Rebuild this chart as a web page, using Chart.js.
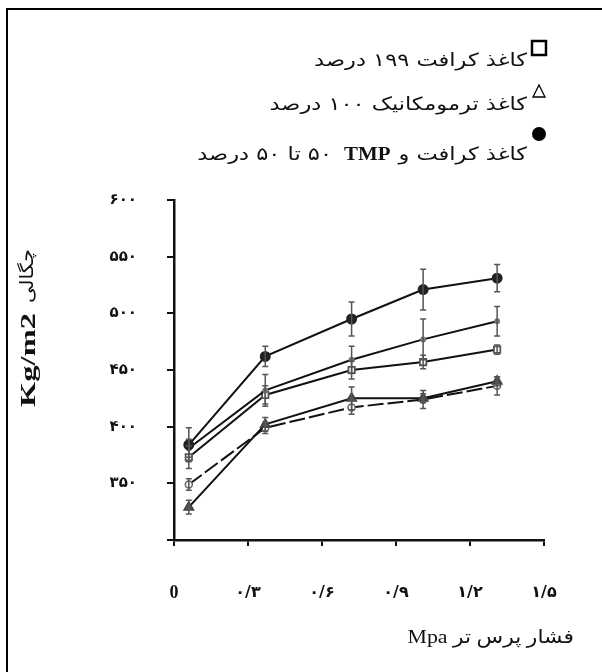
<!DOCTYPE html>
<html>
<head>
<meta charset="utf-8">
<script src="https://cdn.jsdelivr.net/npm/chart.js@4.4.0/dist/chart.umd.min.js"></script>
<style>
    html, body { margin: 0; padding: 0; background: #fff; }
    #wrap { width: 602px; height: 672px; position: relative; }
</style>
</head>
<body>
<div id="wrap"><canvas id="chart"></canvas></div>
<script>
// pressure (Mpa) where each sample was taken
const pressure = [0.06, 0.37, 0.72, 1.01, 1.31]

// density values, one array per curve, with the error bar half-heights
const tmpMix = [384, 462, 495, 521, 531]
const tmpMixErr = [15, 9, 15, 18, 12]
const mixLine = [381, 432, 459, 477, 493]
const mixLineErr = [8, 14, 12, 18, 13]
const kraft = [373, 428, 450, 457, 468]
const kraftErr = [10, 8, 8, 6, 4]
const thermoFilled = [329, 402, 425, 425, 440]
const thermoFilledErr = [6, 6, 10, 4, 4]
const thermo = [349, 399, 417, 424, 436]
const thermoErr = [5, 5, 6, 8, 8]

const xTicks = [0, 0.3, 0.6, 0.9, 1.2, 1.5]
const xTickLabels = ['0', '۰/۳', '۰/۶', '۰/۹', '۱/۲', '۱/۵']
const yTicks = [300, 350, 400, 450, 500, 550, 600]
const yTickLabels = ['', '۳۵۰', '۴۰۰', '۴۵۰', '۵۰۰', '۵۵۰', '۶۰۰']

const legendLabels = ['کاغذ کرافت ۱۹۹ درصد', 'کاغذ ترمومکانیک ۱۰۰ درصد', 'کاغذ کرافت و TMP ۵۰ تا ۵۰ درصد']
const legendMarkers = ['square', 'triangle', 'dot']

const xTitle = 'فشار پرس تر Mpa'
const yTitleUnit = 'Kg/m2'
const yTitleWord = 'چگالی'

const serif = "'Liberation Serif', 'DejaVu Sans', serif"
const persian = "'DejaVu Sans', sans-serif"

function pts(values) {
    return values.map((v, i) => ({ x: pressure[i], y: v }))
}

// right-aligned text, stretched sideways a little (the scan's Persian font is wide)
function wideText(c, text, xr, y, font, sx, dir) {
    c.save()
    c.font = font
    c.direction = dir || 'rtl'
    c.textAlign = 'right'
    c.translate(xr, y)
    c.scale(sx, 1)
    c.fillText(text, 0, 0)
    const w = c.measureText(text).width * sx
    c.restore()
    return w
}

const framePlugin = {
    id: 'frame',
    beforeDraw(chart) {
        const c = chart.ctx
        c.save()
        c.fillStyle = '#fff'
        c.fillRect(0, 0, chart.width, chart.height)
        c.strokeStyle = '#000'
        c.lineWidth = 2
        c.beginPath()
        c.moveTo(7, chart.height)
        c.lineTo(7, 9)
        c.lineTo(chart.width, 9)
        c.stroke()
        c.restore()
    }
}

const errorBarPlugin = {
    id: 'errorBars',
    afterDatasetsDraw(chart) {
        const c = chart.ctx
        const xs = chart.scales.x, ys = chart.scales.y
        c.save()
        c.strokeStyle = '#555'
        c.lineWidth = 1.5
        chart.data.datasets.forEach(ds => {
            if (!ds.errorBars) return
            ds.data.forEach((p, i) => {
                const e = ds.errorBars[i]
                if (!e) return
                const px = xs.getPixelForValue(p.x)
                const top = ys.getPixelForValue(p.y + e)
                const bot = ys.getPixelForValue(p.y - e)
                c.beginPath()
                c.moveTo(px, top); c.lineTo(px, bot)
                c.moveTo(px - 3, top); c.lineTo(px + 3, top)
                c.moveTo(px - 3, bot); c.lineTo(px + 3, bot)
                c.stroke()
            })
        })
        c.restore()
    }
}

function drawMarker(c, kind, x, y) {
    c.save()
    c.strokeStyle = '#000'
    c.fillStyle = '#000'
    if (kind === 'square') {
        c.lineWidth = 2.5
        c.strokeRect(x - 7, y - 7, 14, 14)
    } else if (kind === 'triangle') {
        c.lineWidth = 1.3
        c.beginPath()
        c.moveTo(x, y - 7); c.lineTo(x + 6, y + 5); c.lineTo(x - 6, y + 5)
        c.closePath()
        c.stroke()
    } else {
        c.beginPath()
        c.arc(x, y, 7, 0, Math.PI * 2)
        c.fill()
    }
    c.restore()
}

const textPlugin = {
    id: 'texts',
    afterDraw(chart) {
        const c = chart.ctx
        const area = chart.chartArea
        c.save()
        c.fillStyle = '#111'
        c.textBaseline = 'middle'

        // legend: marker on the right, label one step lower and to the left
        const markerX = 539, textRight = 527
        const markerY = [48, 92, 134], textY = [61, 105, 155]
        const pFont = '18px ' + persian
        legendLabels.forEach((label, i) => {
            drawMarker(c, legendMarkers[i], markerX, markerY[i])
            if (label.includes('TMP')) {
                const parts = label.split('TMP')
                let xr = textRight
                xr -= wideText(c, parts[0].trim(), xr, textY[i], pFont, 1.25) + 8
                xr -= wideText(c, 'TMP', xr, textY[i], 'bold 19px ' + serif, 1.1, 'ltr') + 12
                wideText(c, parts[1].trim(), xr, textY[i], pFont, 1.25)
            } else {
                wideText(c, label, textRight, textY[i], pFont, 1.25)
            }
        })

        // x axis title, sitting right of centre as in the original
        wideText(c, xTitle, area.right + 30, 638, '19px ' + serif, 1.15)

        // y axis title, rotated, read from bottom to top
        c.direction = 'ltr'
        c.translate(30, 407)
        c.rotate(-Math.PI / 2)
        c.textAlign = 'left'
        c.save()
        c.scale(1.55, 1)
        c.font = 'bold 21px ' + serif
        c.fillText(yTitleUnit, 0, 0)
        const unitW = c.measureText(yTitleUnit).width * 1.55
        c.restore()
        c.save()
        c.scale(1.15, 1)
        c.font = '18px ' + persian
        c.fillText(yTitleWord, (unitW + 10) / 1.15, -2)
        c.restore()
        c.restore()
    }
}

const ctx = document.getElementById('chart').getContext('2d')

const datasets = [
    { data: pts(tmpMix), errorBars: tmpMixErr, pointStyle: 'circle', pointRadius: 4.5,
      pointBackgroundColor: '#222', pointBorderColor: '#222' },
    { data: pts(mixLine), errorBars: mixLineErr, pointStyle: 'circle', pointRadius: 2,
      pointBackgroundColor: '#777', pointBorderColor: '#777' },
    { data: pts(kraft), errorBars: kraftErr, pointStyle: 'rect', pointRadius: 4.5,
      pointBackgroundColor: '#fff', pointBorderColor: '#555', pointBorderWidth: 1.8 },
    { data: pts(thermoFilled), errorBars: thermoFilledErr, pointStyle: 'triangle', pointRadius: 5,
      pointBackgroundColor: '#555', pointBorderColor: '#444' },
    { data: pts(thermo), errorBars: thermoErr, pointStyle: 'circle', pointRadius: 3.5,
      pointBackgroundColor: '#fff', pointBorderColor: '#666', pointBorderWidth: 1.5,
      borderDash: [16, 4] }
].map(d => Object.assign({
    borderColor: '#111', borderWidth: 2, fill: false, tension: 0, showLine: true
}, d))

const chart = new Chart(ctx, {
    type: 'scatter',
    data: { datasets: datasets },
    plugins: [framePlugin, errorBarPlugin, textPlugin],
    options: {
        responsive: true,
        maintainAspectRatio: false,
        animation: false,
        layout: { padding: { left: 0, top: 200, right: 58, bottom: 0 } },
        plugins: { legend: { display: false }, tooltip: { enabled: false } },
        scales: {
            x: {
                type: 'linear',
                min: 0,
                max: 1.5,
                afterBuildTicks: s => { s.ticks = xTicks.map(v => ({ value: v })) },
                afterFit: s => { s.height = 132 },
                border: { display: true, color: '#111', width: 2.5 },
                grid: { drawOnChartArea: false, drawTicks: true, tickLength: 6, color: '#111', lineWidth: 2 },
                ticks: {
                    padding: 37,
                    maxRotation: 0,
                    color: '#111',
                    font: c => c.index === 0 ? { family: serif, size: 18, weight: 'bold' } : { family: persian, size: 16, weight: 'bold' },
                    callback: (v, i) => xTickLabels[i]
                }
            },
            y: {
                type: 'linear',
                min: 300,
                max: 600,
                afterBuildTicks: s => { s.ticks = yTicks.map(v => ({ value: v })) },
                afterFit: s => { s.width = 174 },
                border: { display: true, color: '#111', width: 2.5 },
                grid: { drawOnChartArea: false, drawTicks: true, tickLength: 7, color: '#111', lineWidth: 2 },
                ticks: {
                    padding: 30,
                    color: '#111',
                    font: { family: persian, size: 15, weight: 'bold' },
                    callback: (v, i) => yTickLabels[i]
                }
            }
        }
    }
})
</script>
</body>
</html>
